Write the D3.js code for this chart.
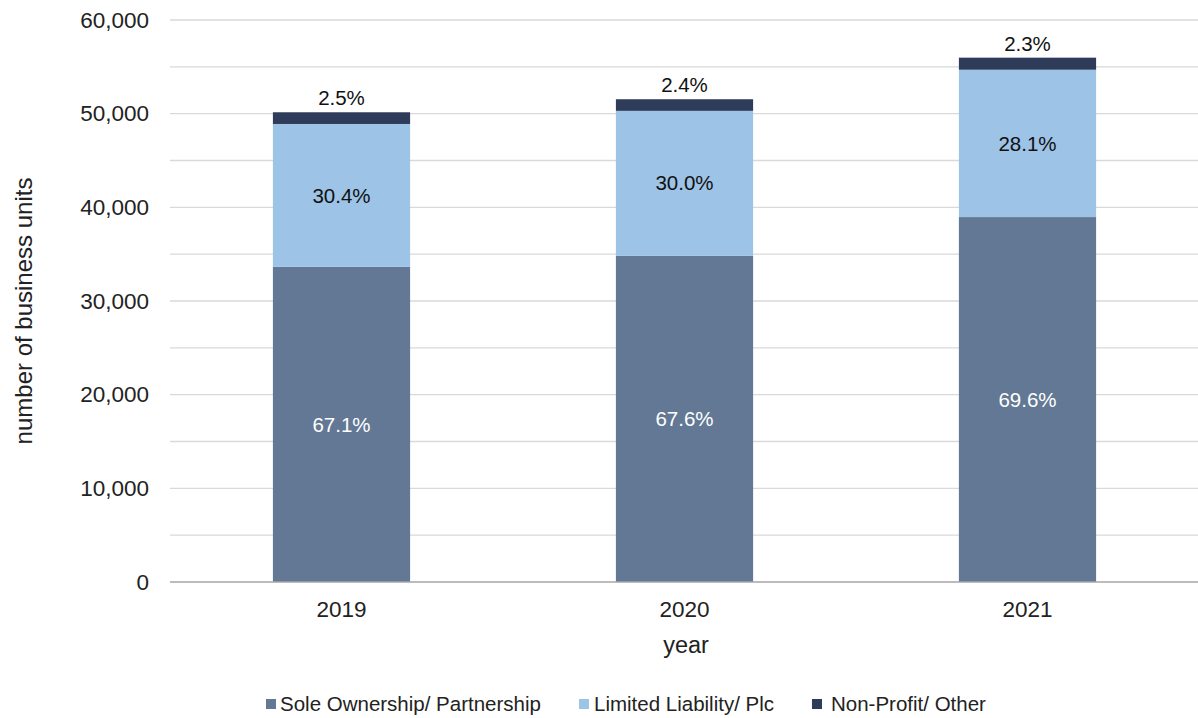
<!DOCTYPE html>
<html><head><meta charset="utf-8">
<script src="https://cdn.jsdelivr.net/npm/d3@7"></script>
<style>body{margin:0;background:#fff;}text{font-family:"Liberation Sans",Arial,sans-serif;}</style>
</head><body><svg id="c" width="1198" height="718"></svg>
<script>
const years = ["2019","2020","2021"];
const seriesNames = ["Sole Ownership/ Partnership","Limited Liability/ Plc","Non-Profit/ Other"];
const sole = [33650, 34840, 38960];
const limited = [15250, 15460, 15730];
const other = [1250, 1240, 1290];
const solePct = ["67.1%","67.6%","69.6%"];
const limitedPct = ["30.4%","30.0%","28.1%"];
const otherPct = ["2.5%","2.4%","2.3%"];
const yTicks = [0,10000,20000,30000,40000,50000,60000];
const colors = ["#627894","#9dc3e6","#2e3c5a"];

const svg = d3.select("#c");
const L=170, R=1199, T=20, B=582;
const x = d3.scaleBand().domain(years).range([L,R]).paddingInner(0.6).paddingOuter(0.3);
const y = d3.scaleLinear().domain([0,60000]).range([B,T]);

// gridlines every 5000
const grid = d3.range(5000, 60001, 5000);
svg.append("g").selectAll("line").data(grid).join("line")
  .attr("x1",L).attr("x2",R).attr("y1",d=>y(d)).attr("y2",d=>y(d))
  .attr("stroke","#d9d9d9").attr("stroke-width",1.3);

// y axis labels
const yAxis = d3.axisLeft(y).tickValues(yTicks).tickSize(0).tickPadding(21).tickFormat(d3.format(","));
const ga = svg.append("g").attr("transform",`translate(${L},0)`).call(yAxis);
ga.select(".domain").remove();
ga.selectAll("text").attr("font-size",22.5).attr("fill","#222").attr("font-family","Liberation Sans, Arial, sans-serif");

const rows = years.map((yr,i)=>({yr, vals:[sole[i],limited[i],other[i]]}));
const stack = d3.stack().keys([0,1,2]).value((d,k)=>d.vals[k]);
const st = stack(rows);
st.forEach((layer,k)=>{
  svg.append("g").selectAll("rect").data(layer).join("rect")
    .attr("x",d=>x(d.data.yr)).attr("width",x.bandwidth())
    .attr("y",d=>y(d[1])).attr("height",d=>y(d[0])-y(d[1]))
    .attr("fill",colors[k]);
});

// x axis baseline
svg.append("line").attr("x1",L).attr("x2",R).attr("y1",B).attr("y2",B).attr("stroke","#a6a6a6").attr("stroke-width",1.3);

const xAxis = d3.axisBottom(x).tickSize(0).tickPadding(19);
const gx = svg.append("g").attr("transform",`translate(0,${B})`).call(xAxis);
gx.select(".domain").remove();
gx.selectAll("text").attr("font-size",22.5).attr("fill","#222").attr("font-family","Liberation Sans, Arial, sans-serif");

// labels
const lbl = (layerIdx, texts, color) => {
  svg.append("g").selectAll("text").data(st[layerIdx]).join("text")
    .attr("x",d=>x(d.data.yr)+x.bandwidth()/2)
    .attr("y",d=>(y(d[0])+y(d[1]))/2)
    .attr("dy","0.35em").attr("text-anchor","middle").attr("font-size",20.5)
    .attr("fill",color).text((d,i)=>texts[i]);
};
lbl(0, solePct, "#ffffff");
lbl(1, limitedPct, "#111");
svg.append("g").selectAll("text").data(st[2]).join("text")
  .attr("x",d=>x(d.data.yr)+x.bandwidth()/2)
  .attr("y",d=>y(d[1])-7)
  .attr("text-anchor","middle").attr("font-size",20.5).attr("fill","#111")
  .text((d,i)=>otherPct[i]);

// axis titles
svg.append("text").attr("transform","translate(24,311) rotate(-90)").attr("text-anchor","middle")
  .attr("dy","0.35em").attr("font-size",24).attr("fill","#222").text("number of business units");
svg.append("text").attr("x",686).attr("y",645).attr("dy","0.35em").attr("text-anchor","middle")
  .attr("font-size",23.5).attr("fill","#222").text("year");

// legend
const legX = [266, 579, 812];
const legT = [14, 15, 19];
const lg = svg.append("g").selectAll("g").data(seriesNames).join("g")
  .attr("transform",(d,i)=>`translate(${legX[i]},704)`);
lg.append("rect").attr("x",0).attr("y",-5).attr("width",10).attr("height",10).attr("fill",(d,i)=>colors[i]);
lg.append("text").attr("x",(d,i)=>legT[i]).attr("dy","0.35em").attr("font-size",20.5).attr("fill","#222").text(d=>d);
</script></body></html>
